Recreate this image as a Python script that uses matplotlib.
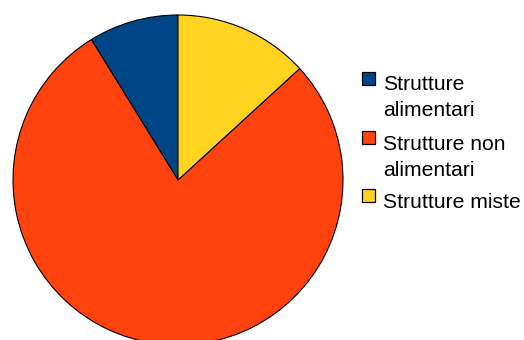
import matplotlib
matplotlib.use("Agg")
import matplotlib.pyplot as plt
from matplotlib.patches import Rectangle

categories = ["Strutture\nalimentari", "Strutture non\nalimentari", "Strutture miste"]
values = [8.8, 78.0, 13.2]
colors = ["#004586", "#ff420e", "#ffd320"]

W, H = 524, 340
fig = plt.figure(figsize=(W / 100, H / 100), dpi=100)
ax = fig.add_axes([0, 0, 1, 1])

ax.pie(values, colors=colors, startangle=90, counterclock=True,
       center=(178, H - 180), radius=165,
       wedgeprops=dict(edgecolor="black", linewidth=0.8))
ax.set_xlim(0, W)
ax.set_ylim(0, H)
ax.set_aspect("equal")
ax.axis("off")

square_tops = [72, 131, 189]
baselines = [90.5, 149.5, 207.5]
line_step = 26
for name, col, top, base in zip(categories, colors, square_tops, baselines):
    ax.add_patch(Rectangle((362, H - top - 12.5), 12.5, 12.5, facecolor=col,
                           edgecolor="black", linewidth=0.9, clip_on=False))
    for k, line in enumerate(name.split("\n")):
        ax.text(383, H - base - k * line_step, line, fontsize=15.2,
                family="Liberation Sans", va="baseline", ha="left",
                color="black")

fig.savefig("out.png", dpi=100)
